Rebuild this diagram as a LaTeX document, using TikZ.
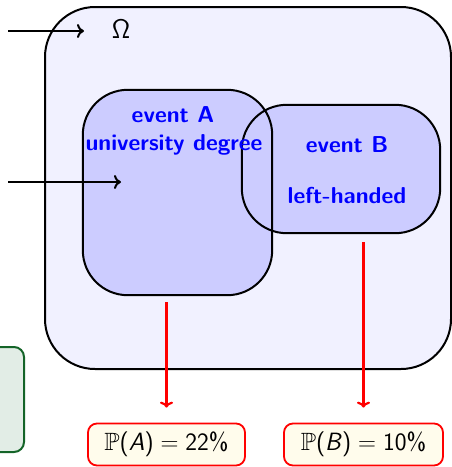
\documentclass[tikz,border=0pt]{standalone}
\usepackage{amssymb}
\usetikzlibrary{calc,arrows.meta}
\definecolor{omegafill}{RGB}{241,241,255}
\definecolor{eventfillc}{RGB}{204,204,255}
\definecolor{probfill}{RGB}{255,252,236}
\definecolor{greenfill}{RGB}{226,237,230}
\definecolor{greenline}{RGB}{20,100,40}
\definecolor{evblue}{RGB}{0,0,255}
\begin{document}
\begin{tikzpicture}[x=1pt,y=-1pt]
\useasboundingbox (0,0) rectangle (452,467);
\tikzset{
  omegashape/.style={fill=omegafill, draw=black, line width=2pt, rounded corners=50pt, inner sep=0pt, rectangle},
  evfill/.style={fill=eventfillc, rounded corners=45pt, inner sep=0pt, rectangle},
  evline/.style={draw=black, line width=2pt, rounded corners=45pt},
  evtext/.style={text=evblue, font=\fontsize{23}{26}\selectfont\sffamily\bfseries, anchor=base, inner sep=0pt},
  probbox/.style={fill=probfill, draw=red, line width=1.8pt, rounded corners=9pt, inner sep=0pt, minimum height=42pt, font=\fontsize{25}{28}\selectfont\sffamily},
  greenbox/.style={fill=greenfill, draw=greenline, line width=2pt, rounded corners=10pt, inner sep=0pt},
  blackarrow/.style={draw=black, line width=2pt, -{To[length=7pt,width=14pt]}},
  redarrow/.style={draw=red, line width=2.2pt, -{To[length=6pt,width=13pt]}},
}
% Omega
\node[omegashape, minimum width=406pt, minimum height=362pt] (Om) at (248,188) {};
\node[anchor=base, inner sep=0pt, font=\fontsize{27}{30}\selectfont\sffamily] (OmL) at (121,38) {Ω};
% green box (cut off)
\node[greenbox, minimum width=60pt, minimum height=105pt] (G) at (-6,399.5) {};
% event fills
\node[evfill, minimum width=189pt, minimum height=205pt] (A) at (177.5,192.5) {};
\node[evfill, minimum width=198pt, minimum height=128pt] (B) at (341,169) {};
% event outlines
\draw[evline] (A.south west) rectangle (A.north east);
\draw[evline] (B.south west) rectangle (B.north east);
% texts
\node[evtext] (A1) at (173,122.5) {event A};
\node[evtext] (A2) at (174,150) {university degree};
\node[evtext] (B1) at (347,152) {event B};
\node[evtext] (B2) at (347,203) {left-handed};
% probability boxes
\node[probbox, minimum width=157pt] (PA) at (166.5,444.5) {$\mathbb{P}$(\textit{A})\;$=$\;22\%};
\node[probbox, minimum width=159pt] (PB) at (363.5,444.5) {$\mathbb{P}$(\textit{B})\;$=$\;10\%};
% arrows
\coordinate (s1) at (8,31);
\coordinate (e1) at (84,31);
\coordinate (s2) at (8,182);
\coordinate (e2) at (121,182);
\draw[blackarrow] (s1) -- (e1);
\draw[blackarrow] (s2) -- (e2);
\draw[redarrow, shorten <=7pt, shorten >=15pt] (A.south -| PA.north) -- (PA.north);
\draw[redarrow, shorten <=9pt, shorten >=15pt] (B.south -| PB.north) -- (PB.north);
\end{tikzpicture}
\end{document}
